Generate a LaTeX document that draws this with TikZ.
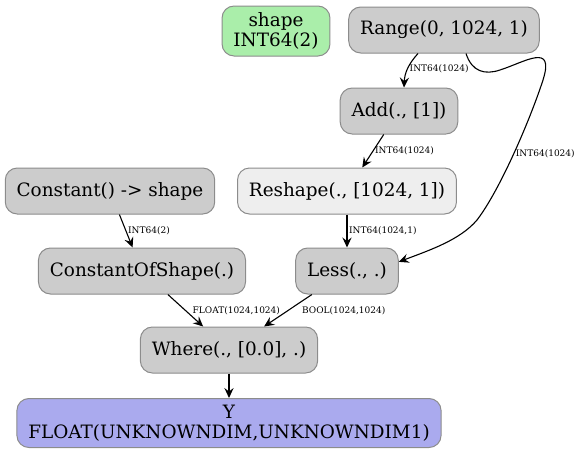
\documentclass[tikz,border=0pt]{standalone}
\usepackage{fontspec}
\setmainfont{DejaVu Serif}
\usepackage{tikz}
\usetikzlibrary{arrows.meta}
\usepackage{xcolor}
\definecolor{opgray}{HTML}{CCCCCC}
\definecolor{oplight}{HTML}{EEEEEE}
\definecolor{ingreen}{HTML}{AAEEAA}
\definecolor{outblue}{HTML}{AAAAEE}
\tikzset{>={Stealth[length=5pt,width=4.6pt,inset=1.8pt]}}

\begin{document}
\begin{tikzpicture}[x=0.5pt, y=-0.5pt]
                        % 1 unit = 1 pixel of the graph, y grows downwards
                        \tikzstyle{op}=[rectangle, rounded corners=6pt, draw=black!45, fill=opgray, line width=0.5pt, minimum height=23pt, inner xsep=5.7pt, inner ysep=2pt, align=center, font=\fontsize{9.2}{10}\selectfont]
                        \tikzstyle{elbl}=[right, inner sep=0.8pt, font=\fontsize{4.5}{5}\selectfont]
                        \tikzstyle{every edge}=[draw, ->, line width=0.55pt]
                        \useasboundingbox (0,0) rectangle (578,455);

                        \node[op, fill=ingreen, minimum height=25pt] (shp) at (276, 31) {shape\\INT64(2)};
                        \node[op] (rng) at (444, 30) {Range(0, 1024, 1)};
                        \node[op] (add) at (399, 111) {Add(., [1])};
                        \node[op, fill=oplight] (resh) at (347, 191) {Reshape(., [1024, 1])};
                        \node[op] (cst) at (110, 191) {Constant() -> shape};
                        \node[op] (cos) at (142, 271) {ConstantOfShape(.)};
                        \node[op, below of = resh, node distance=40pt] (less) {Less(., .)};
                        \node[op] (where) at (229, 350) {Where(., [0.0], .)};
                        \node[op, fill=outblue, minimum height=24.5pt, below of = where, node distance=36.5pt] (y) {Y\\FLOAT(UNKNOWNDIM,UNKNOWNDIM1)};

                        \draw ([xshift=-13pt]rng.south) edge[bend right=20] node[elbl] (l1) {INT64(1024)} ([xshift=2.5pt]add.north);
                        \draw (add) edge node[elbl] (l2) {INT64(1024)} (resh);
                        \draw (cst) edge node[elbl] (l3) {INT64(2)} (cos);
                        \draw (resh) edge node[elbl] (l4) {INT64(1024,1)} (less);
                        \draw (cos) edge node[elbl, xshift=2.5pt] (l5) {FLOAT(1024,1024)} (where);
                        \draw (less) edge node[elbl, xshift=6pt] (l6) {BOOL(1024,1024)} (where);
                        \draw (where) edge (y);

                        % long way round from Range to Less
                        \draw[->, line width=0.55pt] ([xshift=11pt]rng.south) .. controls (472,72) and (485,75) .. (500,70)
                                .. controls (525,62) and (555,42) .. (543,80)
                                .. controls (530,120) and (500,190) .. node[elbl] (l7) {INT64(1024)} (477,220)
                                .. controls (460,240) and (430,250) .. (less.10);
                \end{tikzpicture}
\end{document}
